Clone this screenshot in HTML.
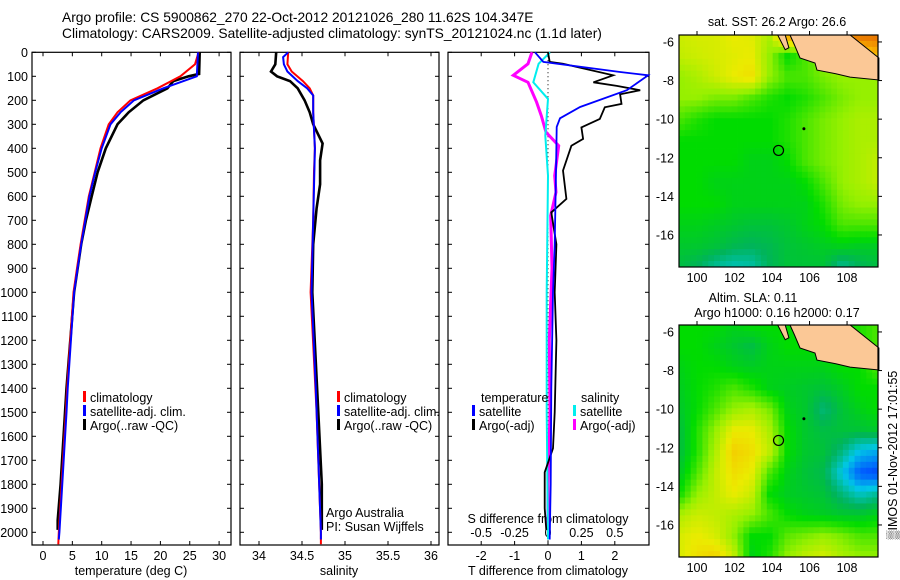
<!DOCTYPE html>
<html><head><meta charset="utf-8"><style>
html,body{margin:0;padding:0;background:#fff;}
svg{display:block;font-family:"Liberation Sans",sans-serif;}
text{font-size:12.5px;fill:#000;}
</style></head><body>
<svg id="fig" width="900" height="580" viewBox="0 0 900 580" xmlns="http://www.w3.org/2000/svg">
<text x="62" y="22" style="font-size:13.8px">Argo profile: CS 5900862_270 22-Oct-2012 20121026_280 11.62S 104.347E</text>
<text x="62" y="38" style="font-size:13.8px">Climatology: CARS2009. Satellite-adjusted climatology: synTS_20121024.nc (1.1d later)</text>
</svg>
<script>
// ---------- data ----------
const depthTicks=[0,100,200,300,400,500,600,700,800,900,1000,1100,1200,1300,1400,1500,1600,1700,1800,1900,2000];
const tempTicks=[0,5,10,15,20,25,30];
const salTicks=[34,34.5,35,35.5,36];
const tdiffTicks=[-2,-1,0,1,2];
const sdiffTicks=[-0.5,-0.25,0,0.25,0.5];
const sdiffLabels=["-0.5","-0.25","0","0.25","0.5"];

const tClimDepth=[0,50,100,150,200,250,300,400,500,600,700,800,900,1000,1400,1500,2000,2050];
const tClim=[26.5,25.9,23.4,19.5,14.9,12.7,11.2,9.8,8.8,7.8,7.1,6.4,5.8,5.2,4.1,3.9,2.7,2.6];
const tSatDepth=[0,100,150,200,250,300,400,500,600,700,800,900,1000,1400,1500,2000,2030];
const tSat=[26.4,26.2,20.5,15.5,13.2,11.5,10.0,8.9,7.9,7.2,6.5,5.9,5.3,4.2,4.0,2.8,2.7];
const tArgoDepth=[0,90,100,120,150,200,250,300,400,500,600,700,800,1000,1400,1800,1950,1990];
const tArgo=[26.7,26.6,24.8,22.2,21.2,17.1,14.6,12.7,10.7,9.3,8.3,7.3,6.5,5.3,4.0,3.0,2.5,2.5];

const sClimDepth=[0,50,80,120,150,180,250,400,500,700,1000,1500,2000,2050];
const sClim=[34.34,34.33,34.38,34.51,34.59,34.63,34.63,34.65,34.64,34.63,34.6,34.67,34.72,34.72];
const sSatDepth=[0,20,50,80,120,150,180,250,400,700,1000,1400,2000,2030];
const sSat=[34.34,34.28,34.29,34.33,34.45,34.56,34.63,34.63,34.65,34.63,34.61,34.66,34.72,34.72];
const sArgoDepth=[0,50,80,100,120,150,200,250,300,380,450,550,650,800,1000,1500,1800,1990];
const sArgo=[34.2,34.19,34.14,34.21,34.36,34.45,34.53,34.59,34.63,34.74,34.71,34.71,34.67,34.63,34.62,34.69,34.73,34.73];

const dTSatDepth=[0,40,82,96,158,228,275,311,500,800,1000,1400,1800,2030];
const dTSat=[-0.39,-0.14,2.16,3.0,2.36,0.96,0.36,0.26,0.24,0.2,0.15,0.1,0.08,0.05];
const dTArgoDepth=[0,40,48,96,125,140,158,175,215,229,278,313,361,389,493,611,667,800,1000,1200,1500,1650,1750,1900,1990];
const dTArgo=[0,0.05,0.45,1.95,1.36,2.06,2.76,2.16,2.2,1.7,1.55,1.0,1.05,0.7,0.45,0.55,0.1,0.25,0.2,0.25,0.2,0.15,-0.1,-0.1,-0.05];
const dSSatDepth=[0,48,125,194,347,514,1000,1500,2030];
const dSSat=[0.015,-0.07,-0.11,0,-0.02,0,-0.01,-0.01,0];
const dSArgoDepth=[0,48,96,125,208,264,333,389,514,583,680,900,1200,1500,1800,1990];
const dSArgo=[-0.12,-0.15,-0.26,-0.15,-0.085,-0.05,-0.015,0.08,0.05,0.06,0.02,0.03,0.01,0.015,0.0,0.0];

const lonTicks=[100,102,104,106,108];
const latTicks=[-6,-8,-10,-12,-14,-16];
const sstGrid=[
[0.65,0.66,0.66,0.68,0.67,0.62,0.80,0.80,0.80,0.82,0.85,0.85],
[0.64,0.65,0.66,0.67,0.68,0.60,0.50,0.55,0.60,0.62,0.70,0.75],
[0.60,0.62,0.65,0.68,0.70,0.60,0.55,0.55,0.58,0.60,0.60,0.60],
[0.60,0.60,0.58,0.58,0.55,0.52,0.50,0.52,0.55,0.58,0.60,0.60],
[0.55,0.52,0.50,0.50,0.50,0.50,0.52,0.55,0.58,0.60,0.62,0.62],
[0.50,0.50,0.50,0.50,0.50,0.50,0.52,0.55,0.58,0.60,0.62,0.62],
[0.50,0.50,0.50,0.50,0.48,0.48,0.50,0.55,0.58,0.60,0.62,0.64],
[0.50,0.50,0.48,0.48,0.48,0.48,0.48,0.50,0.55,0.60,0.62,0.64],
[0.50,0.50,0.50,0.48,0.48,0.48,0.48,0.48,0.52,0.58,0.60,0.60],
[0.48,0.48,0.47,0.46,0.45,0.45,0.46,0.48,0.50,0.55,0.55,0.55],
[0.46,0.46,0.45,0.43,0.42,0.43,0.45,0.46,0.47,0.48,0.47,0.47],
[0.44,0.42,0.38,0.36,0.37,0.42,0.45,0.45,0.45,0.38,0.42,0.44]];
const slaGrid=[
[0.50,0.50,0.50,0.48,0.50,0.50,0.50,0.50,0.50,0.50,0.52,0.55],
[0.50,0.50,0.48,0.46,0.44,0.48,0.50,0.50,0.50,0.50,0.52,0.55],
[0.48,0.50,0.50,0.48,0.47,0.48,0.48,0.48,0.48,0.50,0.50,0.55],
[0.47,0.50,0.52,0.55,0.52,0.48,0.47,0.46,0.45,0.47,0.50,0.50],
[0.46,0.50,0.55,0.60,0.62,0.58,0.48,0.46,0.40,0.45,0.48,0.50],
[0.44,0.52,0.60,0.68,0.68,0.62,0.50,0.46,0.44,0.45,0.45,0.46],
[0.44,0.52,0.62,0.72,0.70,0.64,0.50,0.46,0.45,0.40,0.32,0.30],
[0.46,0.55,0.64,0.70,0.68,0.55,0.48,0.45,0.43,0.33,0.22,0.20],
[0.50,0.60,0.64,0.68,0.65,0.50,0.47,0.46,0.45,0.40,0.35,0.38],
[0.62,0.65,0.64,0.62,0.60,0.55,0.50,0.48,0.47,0.46,0.46,0.48],
[0.66,0.68,0.66,0.60,0.50,0.50,0.56,0.58,0.60,0.58,0.55,0.55],
[0.66,0.70,0.72,0.65,0.48,0.52,0.60,0.64,0.66,0.62,0.60,0.60]];
const javaLon=[105.86,108.16,109.7,109.7,108.16,107.4,106.4,106.29,105.49,105.2,104.96];
const javaLat=[-5.64,-5.64,-6.83,-7.97,-7.82,-7.65,-7.46,-7.09,-6.83,-6.16,-5.64];
const sumLon=[104.3,104.7,104.9,104.7];
const sumLat=[-5.64,-5.64,-6.3,-6.4];
const floatLon=104.347, floatLat=-11.62;

// ---------- helpers ----------
const NS="http://www.w3.org/2000/svg";
const svg=document.getElementById('fig');
function mk(tag,attrs,parent){const e=document.createElementNS(NS,tag);for(const k in attrs)e.setAttribute(k,attrs[k]);(parent||svg).appendChild(e);return e;}
function txt(x,y,s,anchor,parent){const t=mk('text',{x:x,y:y,'text-anchor':anchor||'start'},parent);t.textContent=s;return t;}

const TOP=52.3, PB=545, dY=d=>TOP+d*0.24;
const P1={l:32,r:231}, P2={l:240,r:439}, P3={l:448,r:649};
const xT=v=>43+v*5.87;
const xS=v=>259+(v-34)*86;
const xdT=v=>548+v*33.4;
const xdS=v=>548+v*133.6;

function frame(P,name){
  const g=mk('g',{});
  
  
  mk('rect',{x:P.l,y:TOP,width:P.r-P.l,height:PB-TOP,fill:'none',stroke:'#000','stroke-width':1.2},g);
  depthTicks.forEach(d=>{const y=dY(d);
    mk('line',{x1:P.l,x2:P.l+4,y1:y,y2:y,stroke:'#000'},g);
    mk('line',{x1:P.r-4,x2:P.r,y1:y,y2:y,stroke:'#000'},g);});
  return g;
}
function xticks(g,ticks,fx,labels,y){
  ticks.forEach((v,i)=>{const x=fx(v);
    mk('line',{x1:x,x2:x,y1:PB-4,y2:PB,stroke:'#000'},g);
    mk('line',{x1:x,x2:x,y1:TOP,y2:TOP+4,stroke:'#000'},g);
    const t=txt(x,y,labels?labels[i]:String(v),'middle',g);
    
    });
}
function line(depths,vals,fx,color,w,name,parent){
  const pts=depths.map((d,i)=>fx(vals[i]).toFixed(1)+','+dY(d).toFixed(1)).join(' ');
  const p=mk('polyline',{points:pts,fill:'none',stroke:color,'stroke-width':w,'stroke-linejoin':'miter'},parent);
  
  
  return p;
}
function legend(x,y,color,label,parent){
  const g=mk('g',{},parent);
  
  
  mk('rect',{x:x,y:y-11,width:3,height:11,fill:color},g);
  txt(x+7,y,label,'start',g);
}

// ---------- panel 1: temperature ----------
const g1=frame(P1,'temperature-panel');
depthTicks.forEach(d=>{const t=txt(28,dY(d)+4.5,String(d),'end',g1);
  
  });
xticks(g1,tempTicks,xT,null,560);
const xt1=txt(131,575,'temperature (deg C)','middle',g1);


line(tArgoDepth,tArgo,xT,'#000',2.6,'argo-temperature-line',g1);
line(tClimDepth,tClim,xT,'#f00',2,'climatology-temperature-line',g1);
line(tSatDepth,tSat,xT,'#00f',2,'satellite-temperature-line',g1);
legend(83,402,'#f00','climatology',g1);
legend(83,416,'#00f','satellite-adj. clim.',g1);
legend(83,430,'#000','Argo(..raw -QC)',g1);

// ---------- panel 2: salinity ----------
const g2=frame(P2,'salinity-panel');
xticks(g2,salTicks,xS,null,560);
const xt2=txt(339,575,'salinity','middle',g2);


line(sArgoDepth,sArgo,xS,'#000',2.6,'argo-salinity-line',g2);
line(sClimDepth,sClim,xS,'#f00',2,'climatology-salinity-line',g2);
line(sSatDepth,sSat,xS,'#00f',2,'satellite-salinity-line',g2);
legend(337,402,'#f00','climatology',g2);
legend(337,416,'#00f','satellite-adj. clim.',g2);
legend(337,430,'#000','Argo(..raw -QC)',g2);
const aa=txt(326,517,'Argo Australia','start',g2);


const pi=txt(326,531,'PI: Susan Wijffels','start',g2);



// ---------- panel 3: differences ----------
const g3=frame(P3,'difference-panel');
xticks(g3,tdiffTicks,xdT,null,560);
sdiffTicks.forEach((v,i)=>{const t=txt(xdS(v),537,sdiffLabels[i],'middle',g3);
  
  });
const st=txt(548,523,'S difference from climatology','middle',g3);


const tt=txt(548,575,'T difference from climatology','middle',g3);


const zl=mk('line',{x1:548,x2:548,y1:TOP,y2:PB,stroke:'#000','stroke-dasharray':'1,3','stroke-width':1},g3);


line(dSArgoDepth,dSArgo,xdS,'#f0f',3,'argo-salinity-diff-line',g3);
line(dSSatDepth,dSSat,xdS,'#0ee',2,'satellite-salinity-diff-line',g3);
line(dTArgoDepth,dTArgo,xdT,'#000',1.8,'argo-temperature-diff-line',g3);
line(dTSatDepth,dTSat,xdT,'#00f',1.8,'satellite-temperature-diff-line',g3);
const lt=txt(481,402,'temperature','start',g3);


const ls=txt(581,402,'salinity','start',g3);


legend(472,416,'#00f','satellite',g3);
legend(472,430,'#000','Argo(-adj)',g3);
legend(573,416,'#0ee','satellite',g3);
legend(573,430,'#f0f','Argo(-adj)',g3);

// ---------- maps ----------
const stops=[[0.15,[0,40,200]],[0.22,[0,90,255]],[0.33,[0,200,230]],[0.42,[0,180,90]],[0.5,[0,220,0]],[0.6,[150,240,0]],[0.68,[235,235,0]],[0.76,[250,180,0]],[0.85,[230,110,0]],[0.95,[190,40,0]]];
function cmap(v){
  if(v<=stops[0][0])return stops[0][1];
  for(let i=1;i<stops.length;i++){if(v<=stops[i][0]){const a=stops[i-1],b=stops[i],f=(v-a[0])/(b[0]-a[0]);
    return a[1].map((c,k)=>Math.round(c+(b[1][k]-c)*f));}}
  return stops[stops.length-1][1];
}
function drawMap(top,grid,name){
  const L=679,R=878,B=top+232;
  const lon0=99.04,lon1=109.65,lat0=-5.64,lat1=-17.66;
  const mx=lo=>L+(lo-lon0)/(lon1-lon0)*(R-L);
  const my=la=>top+(la-lat0)/(lat1-lat0)*(B-top);
  const g=mk('g',{});
  
  
  const nc=34,nr=39,cw=(R-L)/nc,ch=(B-top)/nr;
  for(let r=0;r<nr;r++)for(let c=0;c<nc;c++){
    const gx=(c+0.5)/nc*11, gy=(r+0.5)/nr*11;
    const x0=Math.floor(gx),y0=Math.floor(gy),x1=Math.min(11,x0+1),y1=Math.min(11,y0+1),fx=gx-x0,fy=gy-y0;
    const v=grid[y0][x0]*(1-fx)*(1-fy)+grid[y0][x1]*fx*(1-fy)+grid[y1][x0]*(1-fx)*fy+grid[y1][x1]*fx*fy;
    const col=cmap(v);
    mk('rect',{x:(L+c*cw).toFixed(2),y:(top+r*ch).toFixed(2),width:(cw+0.4).toFixed(2),height:(ch+0.4).toFixed(2),fill:'rgb('+col.join(',')+')'},g);
  }
  const land=mk('polygon',{points:javaLon.map((lo,i)=>mx(lo).toFixed(1)+','+my(javaLat[i]).toFixed(1)).join(' '),fill:'#fbc896',stroke:'#000','stroke-width':1},g);
  
  
  const sum=mk('polygon',{points:sumLon.map((lo,i)=>mx(lo).toFixed(1)+','+my(sumLat[i]).toFixed(1)).join(' '),fill:'#fbc896',stroke:'#000','stroke-width':1},g);
  
  
  mk('circle',{cx:mx(105.7),cy:my(-10.5),r:1.5,fill:'#000'},g);
  const fc=mk('circle',{cx:mx(floatLon),cy:my(floatLat),r:5,fill:'none',stroke:'#000','stroke-width':1.2},g);
  
  
  mk('rect',{x:L,y:top,width:R-L,height:B-top,fill:'none',stroke:'#000','stroke-width':1.2},g);
  lonTicks.forEach(lo=>{const x=mx(lo);
    mk('line',{x1:x,x2:x,y1:top-4,y2:top,stroke:'#000'},g);
    const t=txt(x,B+15,String(lo),'middle',g);
    
    });
  latTicks.forEach(la=>{const y=my(la);
    mk('line',{x1:R,x2:R+4,y1:y,y2:y,stroke:'#000'},g);
    const t=txt(674,y+4.5,String(la),'end',g);
    
    });
  return g;
}
drawMap(35,sstGrid,'sst-map');
drawMap(325,slaGrid,'sla-map');
const mt1=txt(777,26,'sat. SST: 26.2  Argo: 26.6','middle');


const mt2=txt(753,302,'Altim. SLA: 0.11','middle');


const mt3=txt(777,317,'Argo h1000: 0.16 h2000: 0.17','middle');


const vt=txt(0,0,'\u2592IMOS 01-Nov-2012 17:01:55','middle');
vt.setAttribute('transform','translate(897,455) rotate(-90)');


</script>
</body></html>
